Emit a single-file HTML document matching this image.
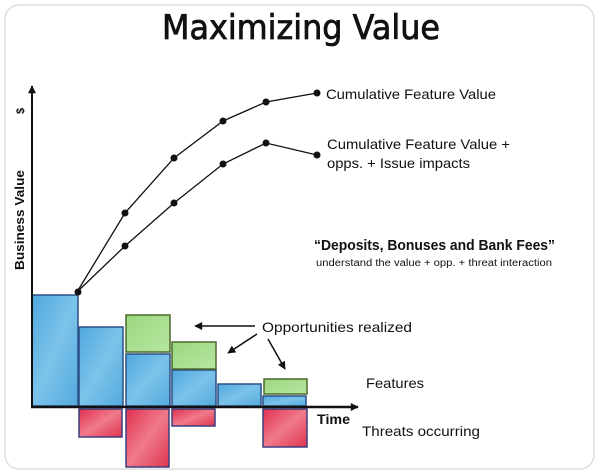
<!DOCTYPE html>
<html><head><meta charset="utf-8"><style>
html,body{margin:0;padding:0;background:#fff;}
svg{display:block;}
text{font-family:"Liberation Sans","DejaVu Sans",sans-serif;fill:#111;}
</style></head><body>
<svg width="600" height="475" viewBox="0 0 600 475" xmlns="http://www.w3.org/2000/svg">
<defs>
<linearGradient id="bl" x1="0" y1="0" x2="1" y2="1"><stop offset="0" stop-color="#4fa8de"/><stop offset="0.5" stop-color="#7cc3ea"/><stop offset="1" stop-color="#52aadd"/></linearGradient>
<linearGradient id="rd" x1="0" y1="0" x2="1" y2="1"><stop offset="0" stop-color="#e0304e"/><stop offset="0.5" stop-color="#f07a8a"/><stop offset="1" stop-color="#de3450"/></linearGradient>
<linearGradient id="gr" x1="0" y1="0" x2="1" y2="1"><stop offset="0" stop-color="#9cd880"/><stop offset="1" stop-color="#b6e6a0"/></linearGradient>
<marker id="ah" viewBox="0 0 10 10" refX="9" refY="5" markerWidth="9" markerHeight="8" markerUnits="userSpaceOnUse" orient="auto"><path d="M0,0 L10,5 L0,10 z" fill="#111"/></marker>
</defs>
<rect x="5" y="5" width="589" height="464" rx="14" fill="#fff" stroke="#ddd" stroke-width="1.5"/>
<text x="162" y="39" font-size="34" textLength="278" lengthAdjust="spacingAndGlyphs" stroke="#111" stroke-width="0.8" style="font-family:'DejaVu Sans',sans-serif">Maximizing Value</text>

<g stroke="#2b4f86" stroke-width="1.5" fill="url(#bl)">
<rect x="32" y="295" width="46" height="111"/>
<rect x="79" y="327" width="44" height="79"/>
<rect x="126" y="354" width="44" height="52"/>
<rect x="172" y="370" width="44" height="36"/>
<rect x="218" y="384" width="43" height="22"/>
<rect x="263" y="396" width="43" height="10"/>
</g>
<g stroke="#4d6a2c" stroke-width="1.5" fill="url(#gr)">
<rect x="126" y="315" width="44" height="37"/>
<rect x="172" y="342" width="44" height="27"/>
<rect x="264" y="379" width="43" height="15"/>
</g>
<g stroke="#3a3f7e" stroke-width="1.5" fill="url(#rd)">
<rect x="79" y="409" width="43" height="28"/>
<rect x="126" y="409" width="43" height="58"/>
<rect x="172" y="409" width="43" height="17"/>
<rect x="263" y="409" width="44" height="38"/>
</g>

<line x1="32" y1="407" x2="32" y2="86" stroke="#111" stroke-width="2" marker-end="url(#ah)"/>
<line x1="31" y1="407" x2="358" y2="407" stroke="#111" stroke-width="2.5" marker-end="url(#ah)"/>

<g stroke="#111" stroke-width="1.3" fill="none">
<polyline points="77,292 125,213 174,158 223,121 266,102 317,93"/>
<polyline points="77,292 125,246 174,203 223,164 266,143 317,155"/>
</g>
<g fill="#111">
<circle cx="78" cy="292" r="3.5"/>
<circle cx="125" cy="213" r="3.5"/><circle cx="174" cy="158" r="3.5"/><circle cx="223" cy="121" r="3.5"/><circle cx="266" cy="102" r="3.5"/><circle cx="317" cy="93" r="3.5"/>
<circle cx="125" cy="246" r="3.5"/><circle cx="174" cy="203" r="3.5"/><circle cx="223" cy="164" r="3.5"/><circle cx="266" cy="143" r="3.5"/><circle cx="317" cy="155" r="3.5"/>
</g>

<g stroke="#111" stroke-width="1.5">
<line x1="255" y1="326" x2="195" y2="326" marker-end="url(#ah)"/>
<line x1="257" y1="334" x2="228" y2="353" marker-end="url(#ah)"/>
<line x1="268" y1="339" x2="285" y2="369" marker-end="url(#ah)"/>
</g>

<text x="326" y="99" font-size="14" textLength="170" lengthAdjust="spacingAndGlyphs">Cumulative Feature Value</text>
<text x="327" y="149" font-size="14" textLength="183" lengthAdjust="spacingAndGlyphs">Cumulative Feature Value +</text>
<text x="327" y="168" font-size="14" textLength="143" lengthAdjust="spacingAndGlyphs">opps. + Issue impacts</text>
<text x="314" y="250" font-size="15" font-weight="bold" textLength="241" lengthAdjust="spacingAndGlyphs">“Deposits, Bonuses and Bank Fees”</text>
<text x="316" y="266" font-size="10" textLength="236" lengthAdjust="spacingAndGlyphs" fill="#333">understand the value + opp. + threat  interaction</text>
<text x="262" y="332" font-size="14" textLength="150" lengthAdjust="spacingAndGlyphs">Opportunities realized</text>
<text x="366" y="388" font-size="14" textLength="58" lengthAdjust="spacingAndGlyphs">Features</text>
<text x="317" y="424" font-size="14" font-weight="bold" textLength="33" lengthAdjust="spacingAndGlyphs">Time</text>
<text x="362" y="436" font-size="14" textLength="118" lengthAdjust="spacingAndGlyphs">Threats occurring</text>
<text transform="translate(24,270) rotate(-90)" font-size="13" font-weight="bold" textLength="100" lengthAdjust="spacingAndGlyphs">Business Value</text>
<text transform="translate(24,114) rotate(-90)" font-size="11" font-weight="bold">$</text>
</svg>
</body></html>
